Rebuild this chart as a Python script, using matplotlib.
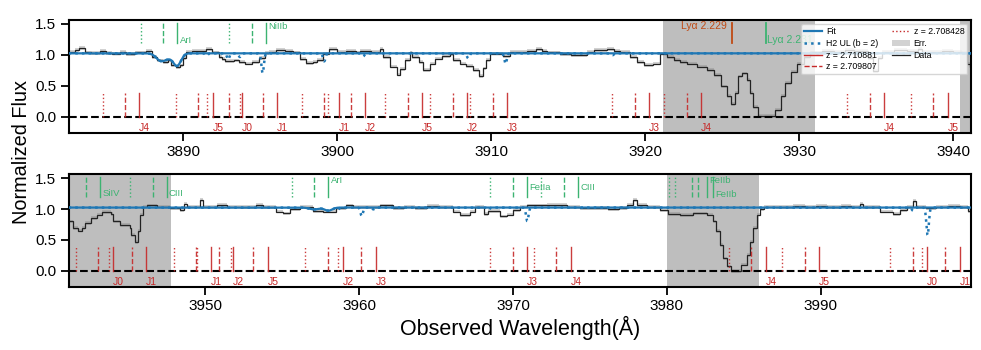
import numpy as np
import matplotlib
matplotlib.use("Agg")
import matplotlib.pyplot as plt
from matplotlib.lines import Line2D
from matplotlib.patches import Patch

plt.rcParams['font.family'] = ['Liberation Sans', 'DejaVu Sans']

# ---------------- data ----------------
SEG_START = [
    3882.40, 3883.00, 3883.20, 3883.60, 3884.00, 3884.60, 3885.00, 3885.40, 3885.90, 3886.30,
    3886.90, 3887.60, 3888.00, 3888.30, 3888.70, 3889.00, 3889.20, 3889.50, 3889.80, 3890.00,
    3890.20, 3890.60, 3891.00, 3891.50, 3891.90, 3892.30, 3892.50, 3892.70, 3893.30, 3893.60,
    3894.00, 3894.50, 3894.90, 3895.30, 3895.60, 3896.00, 3896.60, 3897.10, 3897.60, 3898.00,
    3898.40, 3898.70, 3899.10, 3899.50, 3900.00, 3900.60, 3901.20, 3901.50, 3902.20, 3902.80,
    3903.00, 3903.40, 3903.90, 3904.10, 3904.40, 3904.70, 3904.85, 3905.30, 3905.60, 3906.00,
    3906.35, 3906.80, 3907.30, 3907.55, 3908.00, 3908.40, 3908.85, 3909.20, 3909.50, 3909.70,
    3909.90, 3910.80, 3911.20, 3912.30, 3912.90, 3913.30, 3913.60, 3914.50, 3915.20, 3915.80,
    3916.20, 3916.70, 3917.50, 3918.00, 3918.40, 3919.00, 3919.45, 3919.90, 3920.50, 3921.00,
    3921.40, 3921.85, 3922.30, 3922.70, 3923.35, 3924.00, 3924.45, 3924.90, 3925.30, 3925.60,
    3925.85, 3926.05, 3926.30, 3926.60, 3926.80, 3927.00, 3927.35, 3928.45, 3928.80, 3929.10,
    3929.45, 3929.90, 3930.30, 3930.70, 3931.50, 3932.30, 3933.00, 3933.60, 3934.50, 3934.80,
    3935.10, 3935.40, 3936.20, 3937.00, 3937.70, 3938.00, 3939.30, 3940.00, 3940.60, 3940.90,
    3941.10, 3941.40, 3941.75, 3941.97, 3942.20, 3942.60, 3942.95, 3943.30, 3943.90, 3944.00,
    3944.45, 3945.10, 3945.20, 3945.40, 3945.65, 3945.75, 3945.97, 3946.20, 3946.85, 3947.70,
    3948.35, 3948.60, 3948.80, 3949.65, 3949.85, 3950.75, 3951.40, 3952.25, 3953.30, 3953.75,
    3954.60, 3955.05, 3955.50, 3956.15, 3957.00, 3957.65, 3958.50, 3959.15, 3959.60, 3961.36,
    3962.20, 3962.90, 3963.60, 3964.40, 3965.20, 3966.10, 3966.55, 3967.20, 3967.50, 3968.10,
    3968.40, 3969.15, 3969.60, 3970.00, 3970.45, 3970.90, 3972.20, 3973.50, 3974.35, 3975.30,
    3976.20, 3976.90, 3977.40, 3977.80, 3978.03, 3978.70, 3979.55, 3980.10, 3980.85, 3981.70,
    3982.60, 3983.00, 3983.20, 3983.45, 3983.65, 3983.90, 3984.20, 3984.85, 3985.20, 3985.40,
    3985.60, 3985.85, 3986.05, 3986.30, 3987.10, 3988.20, 3989.00, 3989.70, 3990.40, 3991.30,
    3992.00, 3992.55, 3992.75, 3993.85, 3994.70, 3995.15, 3995.60, 3996.00, 3996.20, 3996.85,
    3997.50, 3998.30, 3999.05, 3999.60]
SEG_END = 3999.90
FLUX = [
    1.05, 1.08, 1.11, 1.04, 1.03, 1.06, 1.03, 1.02, 1.05, 1.01,
    1.04, 1.07, 0.97, 0.91, 0.89, 0.91, 0.83, 0.80, 0.83, 0.95,
    1.05, 1.07, 1.06, 1.09, 1.04, 0.97, 0.93, 0.90, 0.91, 0.89,
    0.86, 0.89, 0.95, 1.03, 1.05, 1.08, 1.07, 1.04, 0.93, 0.87,
    0.88, 0.92, 1.02, 1.09, 1.05, 1.06, 1.04, 1.06, 1.05, 1.09,
    0.97, 0.81, 0.68, 0.77, 0.92, 1.04, 0.97, 0.89, 0.75, 0.86,
    0.94, 0.98, 1.01, 0.92, 0.86, 0.82, 0.76, 0.66, 0.78, 0.92,
    1.02, 0.98, 1.05, 1.07, 1.09, 1.06, 1.04, 1.01, 0.99, 1.00,
    1.05, 1.08, 1.09, 1.06, 1.05, 0.97, 0.89, 0.84, 0.86, 1.02,
    0.97, 0.92, 0.89, 0.86, 0.81, 0.76, 0.67, 0.49, 0.33, 0.20,
    0.38, 0.65, 0.70, 0.59, 0.38, 0.16, 0.01, 0.11, 0.33, 0.54,
    0.73, 0.86, 0.97, 1.04, 1.07, 1.05, 1.08, 1.06, 0.95, 0.74,
    0.95, 1.05, 1.08, 1.06, 1.10, 1.05, 1.07, 1.05, 1.03, 0.86,
    0.80, 0.69, 0.65, 0.69, 0.77, 0.85, 0.91, 0.95, 0.92, 0.80,
    0.74, 0.69, 0.58, 0.46, 0.64, 0.91, 1.04, 1.06, 1.04, 1.01,
    0.99, 1.09, 1.04, 1.15, 1.04, 1.07, 1.04, 1.03, 1.07, 1.03,
    0.96, 0.93, 1.00, 1.03, 0.97, 0.96, 1.01, 1.06, 1.03, 1.06,
    1.02, 1.04, 1.02, 1.05, 1.03, 0.96, 0.90, 0.96, 1.03, 0.92,
    0.97, 0.88, 0.91, 0.99, 1.04, 1.06, 1.07, 1.03, 1.01, 1.02,
    1.00, 1.02, 1.07, 1.15, 1.07, 1.03, 0.98, 0.92, 0.90, 0.93,
    0.91, 0.80, 0.64, 0.42, 0.20, 0.07, 0.00, 0.10, 0.26, 0.47,
    0.69, 0.91, 1.00, 1.04, 1.03, 1.05, 1.03, 1.05, 1.03, 1.05,
    1.04, 1.08, 1.03, 0.96, 0.92, 0.99, 1.03, 1.13, 1.03, 1.01,
    1.04, 1.05, 1.03, 0.97]
FLUX_ERR = 0.03

FIT_LEVEL = 1.025
FIT_DIP_CENTER = [3888.55, 3889.05, 3889.60, 3957.07, 3958.00]
FIT_DIP_DEPTH = [0.12, 0.05, 0.20, 0.03, 0.05]
FIT_DIP_WIDTH = [0.30, 0.25, 0.25, 0.30, 0.25]

UL_CENTER = [3891.52, 3892.92, 3893.68, 3895.16, 3899.16, 3901.69, 3908.51, 3910.94, 3917.89,
             3920.27, 3958.60, 3960.17, 3960.92, 3968.40, 3970.93, 3996.00, 3996.95]
UL_DEPTH = [0.04, 0.10, 0.06, 0.32, 0.13, 0.05, 0.08, 0.17, 0.03,
            0.03, 0.04, 0.14, 0.03, 0.04, 0.22, 0.05, 0.45]
UL_WIDTH = 0.08

RED_SOLID = [3887.14, 3891.91, 3893.81, 3896.07, 3900.09, 3901.78, 3905.51, 3908.41, 3911.03,
             3920.23, 3923.61, 3935.52, 3939.67,
             3943.98, 3946.15, 3950.37, 3951.82, 3954.05, 3958.93, 3961.09, 3970.93, 3973.75,
             3986.43, 3989.89, 3996.93, 3999.03]
RED_LABELS = ['J4', 'J5', 'J0', 'J1', 'J1', 'J2', 'J5', 'J2', 'J3', 'J3', 'J4', 'J4', 'J5',
              'J0', 'J1', 'J1', 'J2', 'J5', 'J2', 'J3', 'J3', 'J4', 'J4', 'J5', 'J0', 'J1']
RED_DASHED = [3886.23, 3890.97, 3892.95, 3895.16, 3899.12, 3900.87, 3904.58, 3907.50, 3910.10,
              3919.32, 3922.70, 3934.59, 3938.72,
              3943.05, 3945.22, 3949.41, 3950.89, 3953.12, 3957.96, 3960.12, 3969.98, 3972.82,
              3985.49, 3988.96, 3996.00, 3998.06]
RED_DOTTED = [3884.76, 3889.53, 3891.52, 3893.68, 3897.71, 3899.42, 3903.12, 3906.03, 3908.62,
              3917.87, 3921.23, 3933.13, 3937.25,
              3941.60, 3943.72, 3947.95, 3949.44, 3951.67, 3956.50, 3958.65, 3968.50, 3971.37,
              3984.02, 3987.49, 3994.52, 3996.58]
RED_LINE_TOP = 0.39
RED_LABEL_Y = -0.18

GREEN_DOTTED = [3887.25, 3892.99, 3945.11, 3955.62, 3968.51, 3971.84, 3980.16, 3980.53]
GREEN_DASHED = [3888.70, 3894.44, 3942.25, 3946.58, 3957.07, 3969.98, 3973.32, 3981.65, 3982.04]
GREEN_SOLID = [3889.61, 3895.35, 3943.16, 3947.49, 3958.00, 3970.89, 3974.25, 3982.59, 3982.98]
GREEN_LABELS = ['ArI', 'NiIIb', 'SiIV', 'CIII', 'ArI', 'FeIIa', 'CIII', 'FeIIb', 'FeIIb']
GREEN_LABEL_Y = [1.24, 1.46, 1.26, 1.26, 1.47, 1.35, 1.35, 1.46, 1.24]
GREEN_LINE_RANGE = [1.19, 1.52]

LYA_WAVE = [3925.66, 3927.85]
LYA_TEXT = ['Ly\u03b1 2.229', 'Ly\u03b1 2.231']
LYA_TEXT_Y = [1.46, 1.24]

MASKS = [(3921.18, 3931.05), (3940.44, 3947.77), (3980.0, 3986.0)]
PANEL_XLIM = [(3882.56, 3941.19), (3941.12, 3999.79)]
YLIM = (-0.26, 1.565)

LEGEND_Z = ['z = 2.710881', 'z = 2.709807', 'z = 2.708428']

# ---------------- styles ----------------
C_FIT = '#1f77b4'
C_RED = '#c62828'
C_GREEN = '#3cb371'
C_LYA = '#c04a14'

fig = plt.figure(figsize=(9.81, 3.5), dpi=100)
axes = [fig.add_axes([0.0700, 0.6209, 0.9201, 0.3220]),
        fig.add_axes([0.0700, 0.1809, 0.9201, 0.3211])]

edges = np.array(SEG_START + [SEG_END])
flux = np.array(FLUX)


def model(w, level, centers, depths, widths):
    m = np.full_like(w, level)
    widths = np.broadcast_to(widths, (len(centers),))
    for c, d, s in zip(centers, depths, widths):
        m = m - d * np.exp(-0.5 * ((w - c) / s) ** 2)
    return m


for ax, (x0, x1) in zip(axes, PANEL_XLIM):
    for a, b in MASKS:
        ax.axvspan(a, b, color='#bebebe', lw=0, zorder=0)
    ax.stairs(flux + FLUX_ERR, edges, baseline=flux - FLUX_ERR, fill=True,
              color='0.5', alpha=0.35, lw=0, zorder=1)
    ax.stairs(flux, edges, color='#222222', lw=0.9, zorder=2)
    w = np.linspace(x0, x1, 8000)
    fit = model(w, FIT_LEVEL, FIT_DIP_CENTER, FIT_DIP_DEPTH, FIT_DIP_WIDTH)
    ax.plot(w, fit, color=C_FIT, lw=1.6, zorder=3)
    ul = fit - (FIT_LEVEL - model(w, FIT_LEVEL, UL_CENTER, UL_DEPTH, UL_WIDTH))
    ax.plot(w, ul, color=C_FIT, lw=1.8, ls=':', zorder=3.5)
    ax.axhline(0, color='black', lw=1.5, ls='--', zorder=4)

    for xs, ls in ((RED_SOLID, '-'), (RED_DASHED, '--'), (RED_DOTTED, ':')):
        for x in xs:
            if x0 <= x <= x1:
                ax.plot([x, x], [0, RED_LINE_TOP], color=C_RED, lw=1.0, ls=ls, alpha=0.9, zorder=5)
    for x, lab in zip(RED_SOLID, RED_LABELS):
        if x0 <= x <= x1:
            ax.text(x, RED_LABEL_Y, lab, color=C_RED, fontsize=7.5, ha='left', va='center', zorder=5)

    for xs, ls in ((GREEN_SOLID, '-'), (GREEN_DASHED, '--'), (GREEN_DOTTED, ':')):
        for x in xs:
            if x0 <= x <= x1:
                ax.plot([x, x], GREEN_LINE_RANGE, color=C_GREEN, lw=1.0, ls=ls, zorder=5)
    for x, lab, yy in zip(GREEN_SOLID, GREEN_LABELS, GREEN_LABEL_Y):
        if x0 <= x <= x1:
            ax.text(x + 0.15, yy, lab, color=C_GREEN, fontsize=6.8, ha='left', va='center', zorder=5)

    ax.set_xlim(x0, x1)
    ax.set_ylim(*YLIM)
    ax.set_yticks([0, 0.5, 1.0, 1.5])
    ax.set_yticklabels(['0.0', '0.5', '1.0', '1.5'])
    ax.tick_params(axis='both', labelsize=11, length=5.5, width=1.3, direction='out')
    for sp in ax.spines.values():
        sp.set_linewidth(1.5)

ax1, ax2 = axes
ax1.set_xticks([3890, 3900, 3910, 3920, 3930, 3940])
ax2.set_xticks([3950, 3960, 3970, 3980, 3990])

# Lyman-alpha markers
ax1.plot([LYA_WAVE[0]] * 2, GREEN_LINE_RANGE, color=C_LYA, lw=1.3, zorder=5)
ax1.text(LYA_WAVE[0] - 0.35, LYA_TEXT_Y[0], LYA_TEXT[0], color=C_LYA, fontsize=7.5,
         ha='right', va='center', zorder=5)
ax1.plot([LYA_WAVE[1]] * 2, GREEN_LINE_RANGE, color=C_GREEN, lw=1.3, zorder=5)
ax1.text(LYA_WAVE[1] + 0.1, LYA_TEXT_Y[1], LYA_TEXT[1], color=C_GREEN, fontsize=7.5,
         ha='left', va='center', zorder=5)

handles = [
    Line2D([], [], color=C_FIT, lw=1.6),
    Line2D([], [], color=C_FIT, lw=1.8, ls=':'),
    Line2D([], [], color=C_RED, lw=1.0, ls='-'),
    Line2D([], [], color=C_RED, lw=1.0, ls='--'),
    Line2D([], [], color=C_RED, lw=1.0, ls=':'),
    Patch(facecolor='0.5', alpha=0.35, lw=0),
    Line2D([], [], color='#222222', lw=0.9),
]
labels = ['Fit', 'H2 UL (b = 2)'] + LEGEND_Z + ['Err.', 'Data']
leg = ax1.legend(handles, labels, loc='upper right', ncol=2, fontsize=6.3, handlelength=2.0,
                 columnspacing=1.6, labelspacing=0.32, handletextpad=0.45,
                 borderaxespad=0.45, borderpad=0.35, framealpha=0.8)
leg.set_zorder(10)

fig.text(0.0224, 0.567, 'Normalized Flux', rotation=90, ha='center', va='center', fontsize=14.3)
fig.text(0.530, 0.063, 'Observed Wavelength(\u00c5)', ha='center', va='center', fontsize=15.5)

fig.savefig('out.png', dpi=100)
